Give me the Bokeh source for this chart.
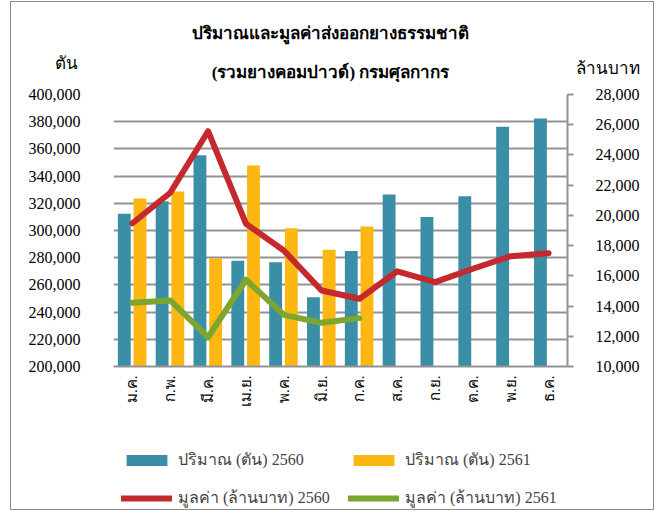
from bokeh.plotting import figure
from bokeh.models import (ColumnDataSource, FactorRange, Range1d, LinearAxis, SingleIntervalTicker,
                          NumeralTickFormatter, Legend, LegendItem)
from bokeh.layouts import column
from bokeh.core.properties import value
from bokeh.transform import dodge
from bokeh.embed import file_html
from bokeh.resources import INLINE
import math

months = ["ม.ค.", "ก.พ.", "มี.ค.", "เม.ย.", "พ.ค.", "มิ.ย.", "ก.ค.", "ส.ค.", "ก.ย.", "ต.ค.", "พ.ย.", "ธ.ค."]
qty_2560 = [312300, 321500, 355400, 277700, 276700, 251000, 285000, 326500, 310000, 325200, 376200, 382400]
qty_2561 = [323500, 328700, 279400, 347800, 301700, 285800, 302900]
val_2560 = [19480, 21500, 25570, 19450, 17680, 15030, 14480, 16300, 15580, 16470, 17300, 17500]
val_2561 = [14220, 14370, 11940, 15740, 13420, 12890, 13200]

title1 = "ปริมาณและมูลค่าส่งออกยางธรรมชาติ"
title2 = "(รวมยางคอมปาวด์) กรมศุลกากร"
left_unit = "ตัน"
right_unit = "ล้านบาท"
legend_labels = ["ปริมาณ (ตัน) 2560", "ปริมาณ (ตัน) 2561", "มูลค่า (ล้านบาท) 2560", "มูลค่า (ล้านบาท) 2561"]

FONT = "Liberation Serif"
C_BLUE = "#3a8fa7"
C_YEL = "#fdb713"
C_RED = "#c3292d"
C_GRN = "#7da630"
GRID = "#939393"

W = 642
TOP_H = 80
MAIN_H = 334
LEG_H = 93

# ---- header figure (titles) ----
head = figure(width=W, height=TOP_H, x_range=Range1d(0, W), y_range=Range1d(TOP_H, 0),
              x_axis_type=None, y_axis_type=None, output_backend="svg", toolbar_location=None,
              min_border=0, outline_line_color=None, frame_align=False)
head.grid.visible = False
hsrc = ColumnDataSource(dict(
    t=[title1, title2, left_unit, right_unit],
    x=[319, 319, 55, 596],
    y=[31, 70, 61, 66],
    style=["bold", "bold", "normal", "normal"],
    size=["17px", "17px", "17px", "17px"],
))
head.text(x="x", y="y", text="t", source=hsrc, text_font=value(FONT), text_font_style="style",
          text_font_size="size", text_align="center", text_baseline="middle", text_color="black")

# ---- main chart ----
src60 = ColumnDataSource(dict(m=months, q=qty_2560, v=val_2560))
src61 = ColumnDataSource(dict(m=months[:len(qty_2561)], q=qty_2561, v=val_2561))

p = figure(width=W, height=MAIN_H, x_range=FactorRange(*months), y_range=Range1d(200000, 400000),
           output_backend="svg", toolbar_location=None, frame_align=False,
           min_border_left=102, min_border_right=W - 556, min_border_top=12, min_border_bottom=50)
p.extra_y_ranges = {"right": Range1d(10000, 28000)}

p.vbar(x=dodge("m", -0.215, range=p.x_range), top="q", bottom=200000, width=0.34,
       source=src60, fill_color=C_BLUE, line_color=None)
p.vbar(x=dodge("m", 0.2, range=p.x_range), top="q", bottom=200000, width=0.34,
       source=src61, fill_color=C_YEL, line_color=None)
p.line(x="m", y="v", source=src60, y_range_name="right", line_color=C_RED, line_width=6,
       line_join="round", line_cap="round")
p.line(x="m", y="v", source=src61, y_range_name="right", line_color=C_GRN, line_width=6,
       line_join="round", line_cap="round")

p.yaxis.ticker = SingleIntervalTicker(interval=20000)
p.yaxis.formatter = NumeralTickFormatter(format="0,0")
p.yaxis.axis_line_color = None
p.yaxis.major_tick_line_color = None
p.yaxis.major_tick_out = 0
p.yaxis.major_tick_in = 0
p.yaxis.minor_tick_line_color = None
p.yaxis.minor_tick_out = 0
p.yaxis.major_label_text_font = FONT
p.yaxis.major_label_text_font_size = "16px"
p.yaxis.major_label_text_color = "black"
p.yaxis.major_label_standoff = 33

ry = LinearAxis(y_range_name="right", ticker=SingleIntervalTicker(interval=2000),
                formatter=NumeralTickFormatter(format="0,0"))
ry.axis_line_color = GRID
ry.axis_line_width = 2
ry.major_tick_line_color = GRID
ry.major_tick_line_width = 2
ry.major_tick_out = 6
ry.major_tick_in = 0
ry.minor_tick_line_color = None
ry.minor_tick_out = 0
ry.major_label_text_font = FONT
ry.major_label_text_font_size = "16px"
ry.major_label_text_color = "black"
ry.major_label_standoff = 22
p.add_layout(ry, "right")

p.xaxis.axis_line_color = GRID
p.xaxis.axis_line_width = 2
p.xaxis.major_tick_line_color = None
p.xaxis.major_tick_out = 0
p.xaxis.major_tick_in = 0
p.xaxis.minor_tick_line_color = None
p.xaxis.major_label_orientation = math.pi / 2
p.xaxis.major_label_text_font = FONT
p.xaxis.major_label_text_font_size = "15px"
p.xaxis.major_label_text_color = "black"
p.xaxis.major_label_standoff = 9

p.xgrid.grid_line_color = None
p.ygrid.grid_line_color = GRID
p.ygrid.grid_line_width = 2
p.outline_line_color = None

# ---- legend figure ----
lf = figure(width=W, height=LEG_H, x_range=Range1d(0, 1), y_range=Range1d(0, 1),
            x_axis_type=None, y_axis_type=None, output_backend="svg", toolbar_location=None,
            min_border=0, outline_line_color=None, frame_align=False)
lf.grid.visible = False
off = dict(x=[-5, -4], y=[-5, -5])  # outside the visible range: only the legend swatches show
g1 = lf.vbar(x="x", top="y", width=0.1, source=ColumnDataSource(off), fill_color=C_BLUE, line_color=None)
g2 = lf.vbar(x="x", top="y", width=0.1, source=ColumnDataSource(off), fill_color=C_YEL, line_color=None)
g3 = lf.line(x="x", y="y", source=ColumnDataSource(off), line_color=C_RED, line_width=6, line_cap="round")
g4 = lf.line(x="x", y="y", source=ColumnDataSource(off), line_color=C_GRN, line_width=6, line_cap="round")

leg_kw = dict(orientation="vertical", margin=0, padding=0, spacing=13,
              glyph_width=51, glyph_height=14, label_height=20, label_standoff=6,
              label_text_font=FONT, label_text_font_size="16px",
              border_line_color=None, background_fill_alpha=0)
legend_a = Legend(items=[LegendItem(label=legend_labels[0], renderers=[g1]),
                         LegendItem(label=legend_labels[2], renderers=[g3])],
                  location=(110, -1), **leg_kw)
legend_b = Legend(items=[LegendItem(label=legend_labels[1], renderers=[g2]),
                         LegendItem(label=legend_labels[3], renderers=[g4])],
                  location=(337, -1), **leg_kw)
lf.add_layout(legend_a, "center")
lf.add_layout(legend_b, "center")

layout = column(head, p, lf, spacing=0)
layout.styles = {"margin-left": "10px", "margin-top": "1px", "border": "1px solid #8a8a8a"}

open("out.html", "w").write(file_html(layout, INLINE))
